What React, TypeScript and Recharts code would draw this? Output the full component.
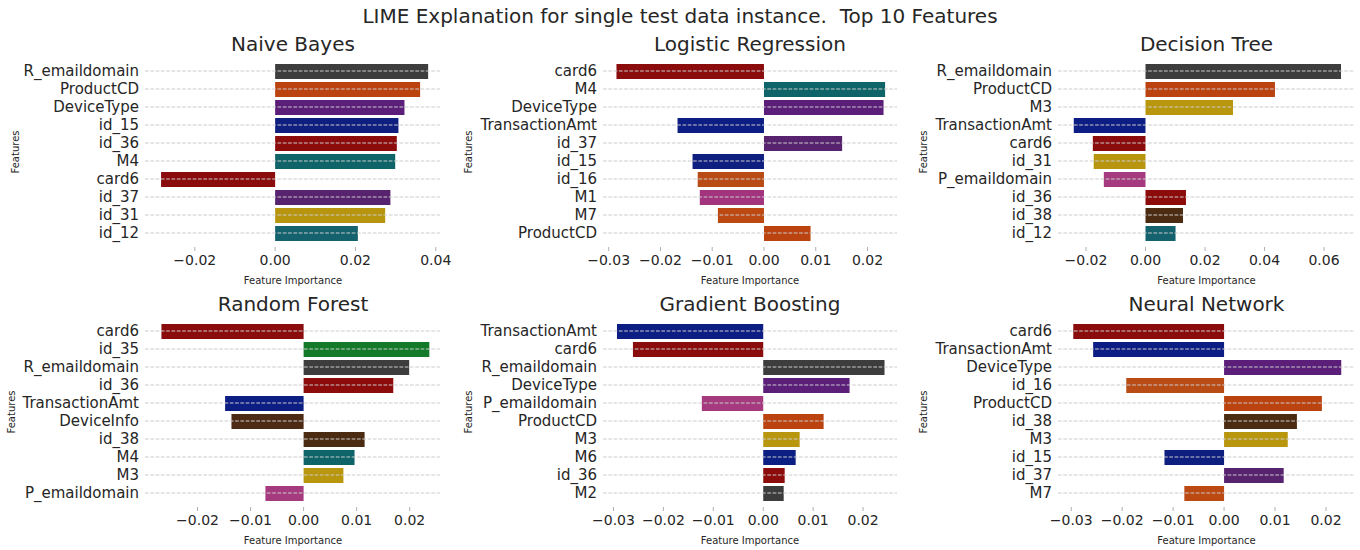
import React from "react";
import { BarChart, Bar, XAxis, YAxis, Cell, ReferenceLine } from "recharts";

// ---- data (top 10 LIME features per model) ----
const nbFeatures = ["R_emaildomain", "ProductCD", "DeviceType", "id_15", "id_36", "M4", "card6", "id_37", "id_31", "id_12"];
const nbValues = [0.0381, 0.0361, 0.0322, 0.0307, 0.0303, 0.0299, -0.0284, 0.0287, 0.0274, 0.0206];

const lrFeatures = ["card6", "M4", "DeviceType", "TransactionAmt", "id_37", "id_15", "id_16", "M1", "M7", "ProductCD"];
const lrValues = [-0.0285, 0.0234, 0.0231, -0.0167, 0.0151, -0.0138, -0.0128, -0.0124, -0.0089, 0.009];

const dtFeatures = ["R_emaildomain", "ProductCD", "M3", "TransactionAmt", "card6", "id_31", "P_emaildomain", "id_36", "id_38", "id_12"];
const dtValues = [0.0657, 0.0435, 0.0294, -0.0241, -0.0177, -0.0174, -0.014, 0.0136, 0.0126, 0.0101];

const rfFeatures = ["card6", "id_35", "R_emaildomain", "id_36", "TransactionAmt", "DeviceInfo", "id_38", "M4", "M3", "P_emaildomain"];
const rfValues = [-0.0268, 0.0237, 0.0199, 0.0169, -0.0148, -0.0136, 0.0115, 0.0096, 0.0075, -0.0072];

const gbFeatures = ["TransactionAmt", "card6", "R_emaildomain", "DeviceType", "P_emaildomain", "ProductCD", "M3", "M6", "id_36", "M2"];
const gbValues = [-0.0293, -0.0261, 0.0243, 0.0173, -0.0123, 0.0121, 0.0073, 0.0065, 0.0043, 0.0041];

const nnFeatures = ["card6", "TransactionAmt", "DeviceType", "id_16", "ProductCD", "id_38", "M3", "id_15", "id_37", "M7"];
const nnValues = [-0.0296, -0.0257, 0.023, -0.0192, 0.0192, 0.0143, 0.0125, -0.0117, 0.0117, -0.0078];

const ticksA = [-0.02, 0, 0.02, 0.04];
const ticksB = [-0.03, -0.02, -0.01, 0, 0.01, 0.02];
const ticksC = [-0.02, 0, 0.02, 0.04, 0.06];
const ticksD = [-0.02, -0.01, 0, 0.01, 0.02];

// colour per feature (same feature = same colour in every panel)
const featureColors: Record<string, string> = {
  R_emaildomain: "#3d3d3d",
  ProductCD: "#bb4310",
  DeviceType: "#5b1f7a",
  id_15: "#0f1f80",
  id_36: "#8c0b0b",
  M4: "#0f6469",
  card6: "#8a0c0c",
  id_37: "#57236f",
  id_31: "#b8950f",
  id_12: "#14626e",
  TransactionAmt: "#0c1d84",
  id_16: "#b84c14",
  M1: "#a2347e",
  M7: "#bc4812",
  M3: "#b8960d",
  P_emaildomain: "#a53a7e",
  id_38: "#4b2c12",
  id_35: "#137a2a",
  DeviceInfo: "#4c2a14",
  M6: "#0c1f82",
  M2: "#3c3c3c",
};

const fmt = (v: number) => (v < 0 ? "\u2212" : "") + Math.abs(v).toFixed(2);

const XTick = (props: any) => {
  const { x, y, payload } = props;
  return (
    <g>
      <line x1={x} x2={x} y1={y - 8} y2={y - 4} stroke="#b0b0b0" />
      <text x={x} y={y} dy="0.71em" textAnchor="middle" fontSize={14} fill="#262626">
        {fmt(payload.value)}
      </text>
    </g>
  );
};

interface PanelProps {
  title: string;
  features: string[];
  values: number[];
  domain: [number, number];
  ticks: number[];
  chartLeft: number;
  plotLeft: number;
  plotRight: number;
  top: number;
  labelX: number;
}

function Panel({ title, features, values, domain, ticks, chartLeft, plotLeft, plotRight, top, labelX }: PanelProps) {
  const data = features.map((f, i) => ({ feature: f, value: values[i] }));
  const plotH = 180;
  const axisH = 42;
  const padR = 24;
  const padB = 10;
  return (
    <>
      <div
        style={{
          position: "absolute",
          left: plotLeft,
          width: plotRight - plotLeft,
          top: top - 28,
          textAlign: "center",
          fontSize: 20,
          lineHeight: "20px",
          color: "#262626",
        }}
      >
        {title}
      </div>
      <div
        style={{
          position: "absolute",
          left: labelX - 40,
          top: top + plotH / 2 - 6,
          width: 80,
          textAlign: "center",
          fontSize: 10,
          lineHeight: "12px",
          color: "#262626",
          transform: "rotate(-90deg)",
        }}
      >
        Features
      </div>
      <div style={{ position: "absolute", left: chartLeft, top }}>
        <BarChart
          width={plotRight - chartLeft + padR}
          height={plotH + axisH + padB}
          data={data}
          layout="vertical"
          margin={{ top: 0, right: padR, bottom: padB, left: 0 }}
        >
          <XAxis
            type="number"
            domain={domain}
            ticks={ticks}
            allowDataOverflow
            interval={0}
            axisLine={false}
            tickSize={0}
            tickMargin={13}
            tick={<XTick />}
            height={axisH}
            label={{ value: "Feature Importance", position: "insideBottom", offset: 0, fontSize: 10, fill: "#262626" }}
          />
          <YAxis
            type="category"
            dataKey="feature"
            width={plotLeft - chartLeft}
            interval={0}
            axisLine={false}
            tickLine={false}
            tickSize={0}
            tickMargin={6}
            tick={{ fontSize: 15, fill: "#262626" }}
          />
          <Bar dataKey="value" barSize={15} isAnimationActive={false}>
            {data.map((d) => (
              <Cell key={d.feature} fill={featureColors[d.feature]} />
            ))}
          </Bar>
          {features.map((f) => (
            <ReferenceLine key={f} y={f} stroke="#cccccc" strokeDasharray="3.7 1.6" />
          ))}
        </BarChart>
      </div>
    </>
  );
}

export default function App() {
  return (
    <div
      style={{
        position: "absolute",
        left: 0,
        top: 0,
        width: 1360,
        height: 550,
        background: "#ffffff",
        fontFamily: "'DejaVu Sans', sans-serif",
        overflow: "hidden",
      }}
    >
      <div
        style={{
          position: "absolute",
          left: 0,
          width: 1360,
          top: 6,
          textAlign: "center",
          fontSize: 20,
          lineHeight: "20px",
          whiteSpace: "pre",
          color: "#262626",
        }}
      >
        {"LIME Explanation for single test data instance.  Top 10 Features"}
      </div>
      <Panel title="Naive Bayes" features={nbFeatures} values={nbValues} domain={[-0.0324, 0.0413]} ticks={ticksA}
        chartLeft={0} plotLeft={145} plotRight={441} top={62} labelX={15.5} />
      <Panel title="Logistic Regression" features={lrFeatures} values={lrValues} domain={[-0.0311, 0.0257]} ticks={ticksB}
        chartLeft={460} plotLeft={603} plotRight={897} top={62} labelX={468.5} />
      <Panel title="Decision Tree" features={dtFeatures} values={dtValues} domain={[-0.0294, 0.0704]} ticks={ticksC}
        chartLeft={910} plotLeft={1058} plotRight={1355} top={62} labelX={924} />
      <Panel title="Random Forest" features={rfFeatures} values={rfValues} domain={[-0.0299, 0.0259]} ticks={ticksD}
        chartLeft={0} plotLeft={145} plotRight={441} top={322} labelX={11.5} />
      <Panel title="Gradient Boosting" features={gbFeatures} values={gbValues} domain={[-0.0321, 0.0268]} ticks={ticksB}
        chartLeft={460} plotLeft={603} plotRight={897} top={322} labelX={468.5} />
      <Panel title="Neural Network" features={nnFeatures} values={nnValues} domain={[-0.0326, 0.0257]} ticks={ticksB}
        chartLeft={910} plotLeft={1058} plotRight={1355} top={322} labelX={924} />
    </div>
  );
}
